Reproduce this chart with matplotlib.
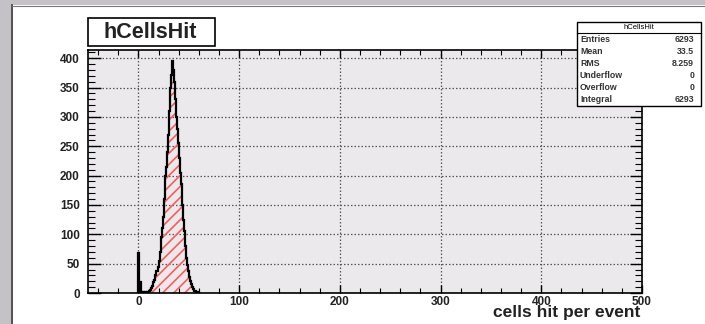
import numpy as np
import matplotlib
matplotlib.use("Agg")
import matplotlib.pyplot as plt
from matplotlib.patches import Rectangle
from matplotlib.ticker import MultipleLocator

# ---- data (bin contents, 1-unit bins starting at x=0) ----
bin_start = 0
counts = [68, 3, 18, 2, 0, 1, 0, 1, 0, 1,
          2, 3, 5, 8, 12, 18, 22, 30, 38, 45,
          55, 70, 95, 110, 130, 160, 200, 215, 240, 270,
          310, 350, 372, 395, 380, 360, 330, 300, 280, 255,
          230, 205, 185, 150, 125, 105, 80, 60, 48, 38,
          28, 20, 15, 10, 6, 4, 3, 2, 1, 1]
x_range = [-50, 500]
y_max = 414
title = "hCellsHit"
xlabel = "cells hit per event"
stats_labels = ["Entries", "Mean", "RMS", "Underflow", "Overflow", "Integral"]
stats_values = ["6293", "33.5", "8.259", "0", "0", "6293"]

plt.rcParams['font.family'] = ['Liberation Sans', 'DejaVu Sans']

W, H = 705, 324
fig = plt.figure(figsize=(W / 100, H / 100), dpi=100)
fig.patch.set_facecolor("white")

def fx(px):
    return px / W

def fy(py):
    return 1 - py / H

# canvas border
gray = "#c4c2c6"
fig.patches.append(Rectangle((0, fy(5)), 1, 5 / H, transform=fig.transFigure,
                             facecolor=gray, edgecolor="none", zorder=0))
fig.patches.append(Rectangle((0, 0), 11 / W, 1, transform=fig.transFigure,
                             facecolor=gray, edgecolor="none", zorder=0))
fig.add_artist(plt.Line2D([fx(12), fx(12)], [0, fy(5)], transform=fig.transFigure,
                          color="#333333", lw=1.2))
fig.add_artist(plt.Line2D([fx(12), 1], [fy(5.5), fy(5.5)], transform=fig.transFigure,
                          color="#777777", lw=0.8))

left, right, top, bottom = 88, 642, 50, 293
ax = fig.add_axes([fx(left), fy(bottom), fx(right - left), (bottom - top) / H])
ax.set_facecolor("#ece9ed")

edges = np.arange(bin_start, bin_start + len(counts) + 1)
vals = np.array(counts, dtype=float)

plt.rcParams['hatch.linewidth'] = 1.2
ax.stairs(vals, edges, fill=True, facecolor="none", edgecolor="#ff5a5a",
          hatch="///", linewidth=0, zorder=3)
ax.stairs(vals, edges, color="black", linewidth=1.6, zorder=4)

ax.set_xlim(*x_range)
ax.set_ylim(0, y_max)

ax.xaxis.set_major_locator(MultipleLocator(100))
ax.xaxis.set_minor_locator(MultipleLocator(20))
ax.yaxis.set_major_locator(MultipleLocator(50))
ax.yaxis.set_minor_locator(MultipleLocator(10))

ax.tick_params(which="both", direction="in", top=True, right=True,
               colors="black", labelsize=8.5)
ax.tick_params(which="major", length=6, width=1.0)
ax.tick_params(which="minor", length=3.5, width=0.8)
ax.tick_params(axis="y", which="major", length=9, pad=6)
ax.tick_params(axis="y", which="minor", length=5)
ax.tick_params(axis="x", which="major", pad=2)
for lab in ax.get_xticklabels() + ax.get_yticklabels():
    lab.set_fontweight("bold")
    lab.set_color("#222222")

ax.grid(True, which="major", color="#555555", linestyle=(0, (1.2, 1.6)), linewidth=0.9)
ax.set_axisbelow(False)
for s in ax.spines.values():
    s.set_linewidth(1.2)
    s.set_zorder(6)

fig.text(fx(640), fy(313), xlabel, ha="right", va="center",
         fontsize=12.5, fontweight="bold", color="#222222")

# title box
fig.patches.append(Rectangle((fx(88), fy(46)), fx(215 - 88), (46 - 18) / H,
                             transform=fig.transFigure, facecolor="white",
                             edgecolor="black", linewidth=1.2, zorder=5))
fig.text(fx(150), fy(32), title, ha="center", va="center",
         fontsize=15.5, fontweight="bold", zorder=6, color="#222222")

# stats box
bx0, bx1, by0, by1 = 577, 701, 22, 106
fig.patches.append(Rectangle((fx(bx0), fy(by1)), fx(bx1 - bx0), (by1 - by0) / H,
                             transform=fig.transFigure, facecolor="white",
                             edgecolor="black", linewidth=1.0, zorder=7))
fig.add_artist(plt.Line2D([fx(bx0), fx(bx1)], [fy(33), fy(33)],
                          transform=fig.transFigure, color="black", lw=0.8, zorder=8))
fig.text(fx((bx0 + bx1) / 2), fy(27.5), title, ha="center", va="center",
         fontsize=5.5, zorder=8)
row_y = [40, 51.5, 63.5, 75.5, 87, 99]
for lbl, val, ry in zip(stats_labels, stats_values, row_y):
    fig.text(fx(580), fy(ry), lbl, ha="left", va="center", fontsize=6.3,
             fontweight="bold", zorder=8, color="#333333")
    fig.text(fx(694), fy(ry), val, ha="right", va="center", fontsize=6.3,
             fontweight="bold", zorder=8, color="#333333")

fig.savefig("out.png", dpi=100, facecolor=fig.get_facecolor())
